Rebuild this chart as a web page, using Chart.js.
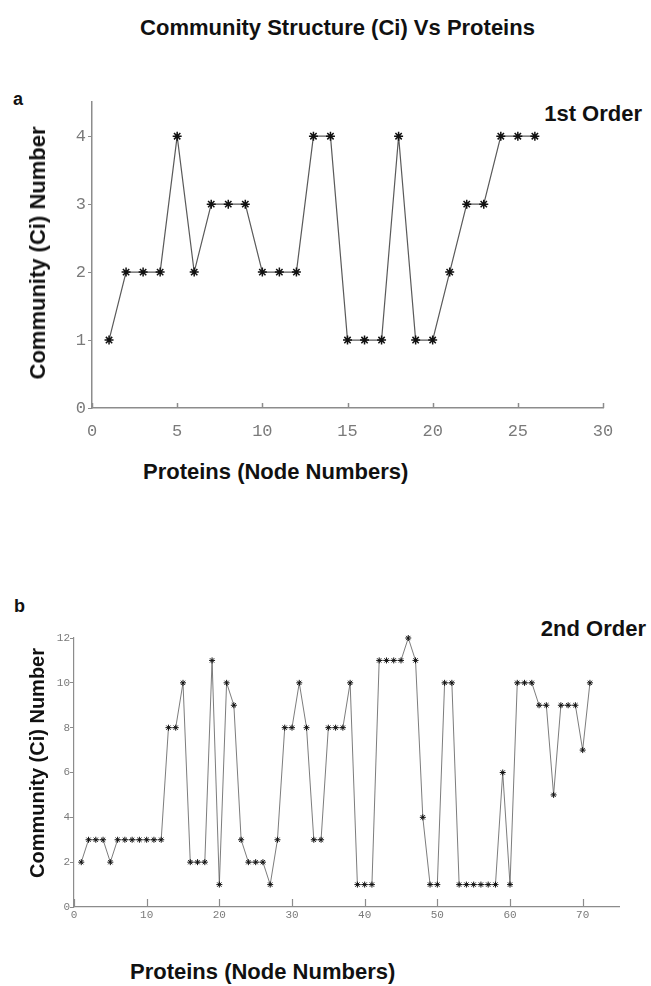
<!DOCTYPE html>
<html>
<head>
<meta charset="utf-8">
<script src="https://cdn.jsdelivr.net/npm/chart.js@4"></script>
<style>
  body { margin: 0; background: #fff; }
  #page { position: relative; width: 651px; height: 986px; overflow: hidden; font-family: "Liberation Sans", Arial, sans-serif; }
  canvas { position: absolute; left: 0; }
  .txt { position: absolute; font-weight: bold; color: #111; white-space: nowrap; line-height: 1; }
  .ytitle { position: absolute; font-weight: bold; color: #111; white-space: nowrap; line-height: 1; transform: translate(-50%, -50%) rotate(-90deg); }
</style>
</head>
<body>
<div id="page">
  <div class="txt" style="left:0;width:675px;text-align:center;top:17px;font-size:22px;">Community Structure (Ci) Vs Proteins</div>
  <div class="txt" style="left:13px;top:90px;font-size:18px;">a</div>
  <div class="txt" style="right:9px;top:103px;font-size:22px;">1st Order</div>
  <canvas id="chartA" width="651" height="360" style="top:90px;"></canvas>
  <div class="ytitle" style="left:38px;top:253px;font-size:22px;">Community (Ci) Number</div>
  <div class="txt" style="left:143px;top:461px;font-size:22px;">Proteins (Node Numbers)</div>

  <div class="txt" style="left:14px;top:597px;font-size:18px;">b</div>
  <div class="txt" style="right:5px;top:618px;font-size:22px;">2nd Order</div>
  <canvas id="chartB" width="651" height="320" style="top:620px;"></canvas>
  <div class="ytitle" style="left:37px;top:763px;font-size:20px;">Community (Ci) Number</div>
  <div class="txt" style="left:130px;top:961px;font-size:22px;">Proteins (Node Numbers)</div>
</div>
<script>
// 1st order: node number -> community
const nodesA = [1, 2, 3, 4, 5, 6, 7, 8, 9, 10, 11, 12, 13, 14, 15, 16, 17, 18, 19, 20, 21, 22, 23, 24, 25, 26];
const communityA = [1, 2, 2, 2, 4, 2, 3, 3, 3, 2, 2, 2, 4, 4, 1, 1, 1, 4, 1, 1, 2, 3, 3, 4, 4, 4];

// 2nd order
const nodesB = [1, 2, 3, 4, 5, 6, 7, 8, 9, 10, 11, 12, 13, 14, 15, 16, 17, 18, 19, 20,
  21, 22, 23, 24, 25, 26, 27, 28, 29, 30, 31, 32, 33, 34, 35, 36, 37, 38, 39, 40,
  41, 42, 43, 44, 45, 46, 47, 48, 49, 50, 51, 52, 53, 54, 55, 56, 57, 58, 59, 60,
  61, 62, 63, 64, 65, 66, 67, 68, 69, 70, 71];
const communityB = [2, 3, 3, 3, 2, 3, 3, 3, 3, 3, 3, 3, 8, 8, 10, 2, 2, 2, 11, 1,
  10, 9, 3, 2, 2, 2, 1, 3, 8, 8, 10, 8, 3, 3, 8, 8, 8, 10, 1, 1,
  1, 11, 11, 11, 11, 12, 11, 4, 1, 1, 10, 10, 1, 1, 1, 1, 1, 1, 6, 1,
  10, 10, 10, 9, 9, 5, 9, 9, 9, 7, 10];

const axisColor = "#8c8c8c";
const tickColor = "#7a7a7a";

// matlab style: x ticks point up into the plot
const innerXTicks = {
  id: "innerXTicks",
  afterDraw(chart, args, opts) {
    const { ctx, scales: { x }, chartArea } = chart;
    ctx.save();
    ctx.strokeStyle = axisColor;
    ctx.lineWidth = opts.width || 1;
    x.ticks.forEach(t => {
      const px = Math.round(x.getPixelForValue(t.value)) + 0.5;
      ctx.beginPath();
      ctx.moveTo(px, chartArea.bottom);
      ctx.lineTo(px, chartArea.bottom - opts.length);
      ctx.stroke();
    });
    ctx.restore();
  }
};

function makeChart(id, nodes, values, cfg) {
  const points = nodes.map((n, i) => ({ x: n, y: values[i] }));
  return new Chart(document.getElementById(id), {
    type: "line",
    data: {
      datasets: [{
        data: points,
        borderColor: "#5a5a5a",
        borderWidth: cfg.lineWidth,
        pointStyle: "star",
        pointRadius: cfg.starRadius,
        pointBorderColor: "#111",
        pointBorderWidth: cfg.starWidth,
        tension: 0,
        clip: false
      }]
    },
    options: {
      responsive: false,
      animation: false,
      layout: { padding: cfg.padding },
      plugins: {
        legend: { display: false },
        tooltip: { enabled: false },
        innerXTicks: { length: cfg.xTickLen, width: cfg.axisWidth }
      },
      scales: {
        x: {
          type: "linear",
          min: 0,
          max: cfg.xMax,
          grid: { display: false, drawTicks: false },
          border: { color: axisColor, width: cfg.axisWidth },
          ticks: {
            stepSize: cfg.xStep,
            includeBounds: false,
            autoSkip: false,
            maxRotation: 0,
            padding: cfg.xLabelPad,
            color: tickColor,
            font: { family: "Liberation Mono", size: cfg.tickSize }
          },
          afterFit: s => { s.height = cfg.xHeight; }
        },
        y: {
          min: 0,
          max: cfg.yMax,
          grid: { drawOnChartArea: false, tickLength: 4, color: axisColor },
          border: { color: axisColor, width: cfg.axisWidth },
          ticks: {
            stepSize: cfg.yStep,
            includeBounds: false,
            padding: cfg.yLabelPad,
            color: tickColor,
            font: { family: "Liberation Mono", size: cfg.tickSize }
          },
          afterFit: s => { s.width = cfg.yWidth; }
        }
      }
    },
    plugins: [innerXTicks]
  });
}

makeChart("chartA", nodesA, communityA, {
  padding: { top: 12, right: 48, left: 0, bottom: 0 },
  xMax: 30, xStep: 5, yMax: 4.5, yStep: 1,
  xHeight: 42, yWidth: 92,
  tickSize: 17, xLabelPad: 13, yLabelPad: 2,
  xTickLen: 5, axisWidth: 1.5,
  lineWidth: 1.2, starRadius: 4.5, starWidth: 1.5
});

makeChart("chartB", nodesB, communityB, {
  padding: { top: 18, right: 32, left: 0, bottom: 0 },
  xMax: 75, xStep: 10, yMax: 12, yStep: 2,
  xHeight: 33, yWidth: 74,
  tickSize: 11, xLabelPad: 1, yLabelPad: 0,
  xTickLen: 8, axisWidth: 1.2,
  lineWidth: 0.8, starRadius: 3, starWidth: 1
});
</script>
</body>
</html>
